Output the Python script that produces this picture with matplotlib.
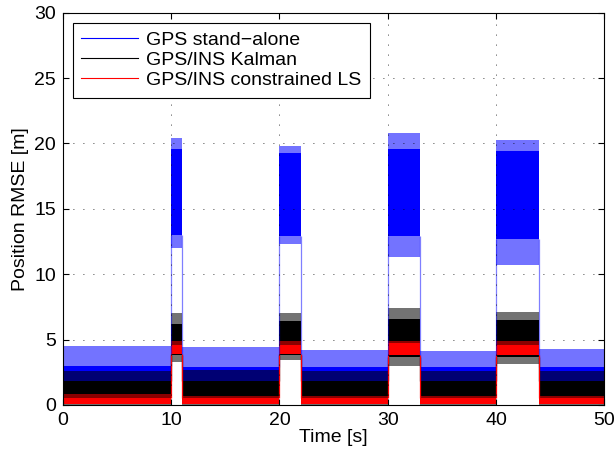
import matplotlib
matplotlib.use('Agg')
import matplotlib.pyplot as plt
from matplotlib.lines import Line2D

plt.rcParams['font.family'] = ['Liberation Sans', 'DejaVu Sans']

# segment edges [s]; odd segments are the GPS outages
seg_edges = [0, 10, 11, 20, 22, 30, 33, 40, 44, 50]

# envelopes, one value per segment
# (dip = lowest spike, lo/hi = dense band, peak = highest spike)
blue_dip  = [0.4, 12.0, 0.4, 12.3, 0.4, 11.3, 0.4, 10.7, 0.4]
blue_lo   = [0.4, 13.0, 0.4, 12.9, 0.4, 12.9, 0.4, 12.7, 0.4]
blue_hi   = [3.0, 19.6, 2.9, 19.3, 2.9, 19.6, 2.9, 19.4, 2.9]
blue_peak = [4.5, 20.4, 4.4, 19.8, 4.2, 20.8, 4.1, 20.3, 4.3]

black_dip  = [0.0, 3.3, 0.0, 3.4, 0.0, 3.0, 0.0, 3.1, 0.0]
black_lo   = [0.1, 3.8, 0.1, 3.8, 0.1, 3.7, 0.1, 3.7, 0.1]
black_hi   = [1.8, 6.2, 1.8, 6.4, 1.8, 6.6, 1.8, 6.5, 1.8]
black_peak = [2.6, 7.0, 2.7, 7.0, 2.6, 7.4, 2.6, 7.1, 2.6]

red_lo   = [0.05, 3.9, 0.05, 3.9, 0.05, 3.85, 0.05, 3.85, 0.05]
red_hi   = [0.5, 4.6, 0.5, 4.6, 0.5, 4.7, 0.5, 4.6, 0.5]
red_peak = [0.8, 4.9, 0.7, 4.9, 0.7, 4.9, 0.7, 4.9, 0.7]

fig = plt.figure(figsize=(6.16, 4.57), dpi=100)
ax = fig.add_axes([0.102, 0.114, 0.879, 0.858])


def draw_band(color, lo, hi, peak, dip=None, edge_alpha=1.0):
    for i in range(len(seg_edges) - 1):
        t = [seg_edges[i], seg_edges[i + 1]]
        ax.fill_between(t, [hi[i]] * 2, [peak[i]] * 2, color=color, alpha=0.55, lw=0)
        if dip is not None:
            ax.fill_between(t, [dip[i]] * 2, [lo[i]] * 2, color=color, alpha=0.55, lw=0)
        ax.fill_between(t, [lo[i]] * 2, [hi[i]] * 2, color=color, lw=0)
    # jumps at the start and end of each outage
    for i in range(1, len(seg_edges) - 1):
        a, b = min(hi[i - 1], hi[i]), max(lo[i - 1], lo[i])
        ax.vlines(seg_edges[i], a, b, color=color, lw=0.9, alpha=edge_alpha)


draw_band('#0000ff', blue_lo, blue_hi, blue_peak, blue_dip, edge_alpha=0.5)
draw_band('#000000', black_lo, black_hi, black_peak, black_dip)
draw_band('#ff0000', red_lo, red_hi, red_peak)

ax.set_xlim(0, 50)
ax.set_ylim(0, 30)
ax.set_xticks([0, 10, 20, 30, 40, 50])
ax.set_yticks([0, 5, 10, 15, 20, 25, 30])
ax.tick_params(direction='in', top=True, right=True, labelsize=14, length=4, pad=5)
ax.grid(True, color='black', linestyle=(0, (1, 11)), linewidth=0.6)
ax.set_axisbelow(False)
for s in ax.spines.values():
    s.set_linewidth(0.8)
ax.set_xlabel('Time [s]', fontsize=14, labelpad=0)
ax.set_ylabel('Position RMSE [m]', fontsize=14, labelpad=4)

handles = [Line2D([], [], color='#0000ff', lw=0.8),
           Line2D([], [], color='#000000', lw=0.8),
           Line2D([], [], color='#ff0000', lw=0.8)]
labels = ['GPS stand\u2212alone', 'GPS/INS Kalman', 'GPS/INS constrained LS']
leg = ax.legend(handles, labels, loc='upper left', fontsize=14, fancybox=False,
                edgecolor='black', framealpha=1, borderaxespad=0.5,
                handlelength=2.9, handletextpad=0.45, labelspacing=0.12,
                borderpad=0.45)
leg.get_frame().set_linewidth(0.8)

fig.savefig('out.png', dpi=100)
